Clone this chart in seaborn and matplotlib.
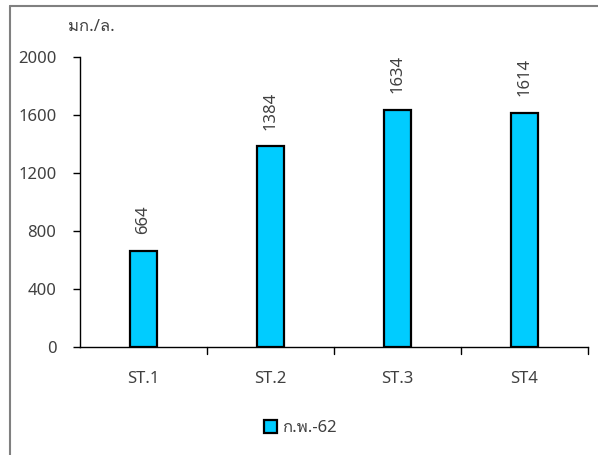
import matplotlib
matplotlib.use("Agg")
import matplotlib.pyplot as plt
import seaborn as sns
import pandas as pd
from matplotlib import font_manager
from matplotlib.ft2font import FT2Font
from matplotlib.patches import Patch
from matplotlib.lines import Line2D

stations = ["ST.1", "ST.2", "ST.3", "ST4"]
values = [664, 1384, 1634, 1614]
yticks = [0, 400, 800, 1200, 1600, 2000]
unit_label = "มก./ล."
series_label = "ก.พ.-62"

# find a font with Thai glyphs
thai_font = None
for f in font_manager.fontManager.ttflist:
    try:
        cm = FT2Font(f.fname).get_charmap()
        if 0x0E01 in cm and 0x0E21 in cm:
            thai_font = f.name
            break
    except Exception:
        pass

sns.set_style("white")
fams = ["Noto Sans"] + ([thai_font] if thai_font else []) + ["DejaVu Sans"]
plt.rcParams["font.family"] = fams

txt = "#404040"
df = pd.DataFrame({"station": stations, "value": values})

fig = plt.figure(figsize=(5.98, 4.55), dpi=100)
ax = fig.add_axes([80/598, 1-347/455, 508/598, 290/455])
sns.barplot(data=df, x="station", y="value", ax=ax, color="#00CCFF",
            edgecolor="black", linewidth=1.6, width=0.21, saturation=1)

ax.set_ylim(0, 2000)
ax.set_xlim(-0.5, 3.5)
ax.set_yticks(yticks)
ax.set_yticklabels([str(v) for v in yticks], fontsize=12, color=txt)
ax.set_xticks(range(len(stations)))
ax.set_xticklabels(stations, fontsize=12, color=txt)
ax.tick_params(axis="y", direction="out", length=5, width=1, color="black", pad=12, left=True)
ax.tick_params(axis="x", length=0, pad=17)
ax.set_xlabel("")
ax.set_ylabel("")
for s in ["top", "right"]:
    ax.spines[s].set_visible(False)
for s in ["left", "bottom"]:
    ax.spines[s].set_color("black")
    ax.spines[s].set_linewidth(1)

# category separator ticks
for b in [0.5, 1.5, 2.5, 3.5]:
    ax.plot([b, b], [0, -0.024], transform=ax.get_xaxis_transform(),
            color="black", lw=1, clip_on=False)

for i, v in enumerate(values):
    ax.annotate(str(v), (i, v), xytext=(0, 12), textcoords="offset points",
                rotation=90, ha="center", va="bottom", fontsize=12, color=txt)

fig.text(68/598, 1-27/455, unit_label, fontsize=12, color=txt, va="center", ha="left")

handle = Patch(facecolor="#00CCFF", edgecolor="black", linewidth=1.6)
fig.legend([handle], [series_label], loc="center", bbox_to_anchor=(300/598, 1-428/455),
           frameon=False, fontsize=12, handlelength=0.8, handleheight=0.8,
           handletextpad=0.3, labelcolor=txt)

# partial figure border (top and left)
fig.add_artist(Line2D([9.5/598, 9.5/598], [0, 1-5.5/455], transform=fig.transFigure, color="#808080", lw=1.5))
fig.add_artist(Line2D([9.5/598, 1], [1-5.5/455, 1-5.5/455], transform=fig.transFigure, color="#808080", lw=1.5))

fig.savefig("out.png", dpi=100)
